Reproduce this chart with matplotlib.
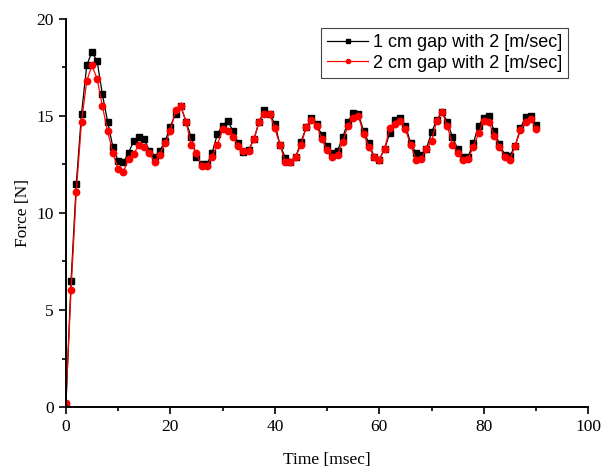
import matplotlib.pyplot as plt
from matplotlib.ticker import MultipleLocator

time_ms = list(range(0, 91))

gap_1cm = [0.0, 6.5, 11.5, 15.1, 17.6, 18.3, 17.8, 16.1, 14.7, 13.4,
           12.7, 12.6, 13.1, 13.7, 13.9, 13.8, 13.2, 12.9, 13.2, 13.7,
           14.45, 15.1, 15.5, 14.7, 13.9, 12.9, 12.5, 12.5, 13.1, 14.05,
           14.5, 14.75, 14.2, 13.6, 13.15, 13.25, 13.8, 14.7, 15.3, 15.1,
           14.6, 13.5, 12.85, 12.6, 12.9, 13.65, 14.4, 14.9, 14.6, 14.0,
           13.45, 13.1, 13.2, 13.9, 14.7, 15.15, 15.1, 14.2, 13.6, 12.9,
           12.75, 13.3, 14.1, 14.8, 14.9, 14.5, 13.6, 13.1, 13.0, 13.3,
           14.15, 14.8, 15.2, 14.7, 13.9, 13.3, 12.9, 12.9, 13.6, 14.5,
           14.9, 15.0, 14.2, 13.55, 13.0, 12.95, 13.45, 14.35, 14.95, 15.0,
           14.55]

gap_2cm = [0.2, 6.05, 11.1, 14.7, 16.8, 17.6, 16.9, 15.5, 14.2, 13.1,
           12.25, 12.1, 12.8, 13.05, 13.5, 13.4, 13.1, 12.6, 13.0, 13.6,
           14.2, 15.3, 15.5, 14.7, 13.5, 13.1, 12.4, 12.4, 12.9, 13.5,
           14.3, 14.2, 13.9, 13.45, 13.2, 13.2, 13.8, 14.7, 15.1, 15.1,
           14.35, 13.5, 12.6, 12.6, 12.9, 13.5, 14.4, 14.8, 14.5, 13.8,
           13.25, 12.9, 13.0, 13.65, 14.5, 14.9, 15.0, 14.05, 13.4, 12.9,
           12.75, 13.3, 14.35, 14.6, 14.75, 14.3, 13.5, 12.75, 12.8, 13.3,
           13.7, 14.75, 15.2, 14.5, 13.5, 13.1, 12.75, 12.8, 13.4, 14.1,
           14.75, 14.7, 13.95, 13.4, 12.9, 12.75, 13.45, 14.25, 14.7, 14.85,
           14.3]

serif = ['Liberation Serif', 'DejaVu Serif']

fig = plt.figure(figsize=(6.04, 4.69), dpi=100)
ax = fig.add_axes([0.109, 0.132, 0.865, 0.828])

ax.plot(time_ms, gap_1cm, color='black', lw=0.9, marker='s', ms=4.4,
        label='1 cm gap with 2 [m/sec]')
ax.plot(time_ms, gap_2cm, color='red', lw=0.9, marker='o', ms=4.6,
        label='2 cm gap with 2 [m/sec]')

ax.set_xlim(0, 100)
ax.set_ylim(0, 20)
ax.xaxis.set_major_locator(MultipleLocator(20))
ax.xaxis.set_minor_locator(MultipleLocator(10))
ax.yaxis.set_major_locator(MultipleLocator(5))
ax.yaxis.set_minor_locator(MultipleLocator(2.5))
ax.tick_params(which='major', direction='out', length=5, width=1.2)
ax.tick_params(which='minor', direction='out', length=3, width=1.2)
for lab in ax.get_xticklabels() + ax.get_yticklabels():
    lab.set_family(serif)
    lab.set_fontsize(12.5)

ax.spines['top'].set_visible(False)
ax.spines['right'].set_visible(False)
ax.spines['left'].set_linewidth(1.4)
ax.spines['bottom'].set_linewidth(1.4)

ax.set_xlabel('Time [msec]', family=serif, fontsize=12.5, labelpad=12)
ax.set_ylabel('Force [N]', family=serif, fontsize=12.5, labelpad=4)

leg = ax.legend(loc='upper right', bbox_to_anchor=(0.962, 0.976), numpoints=1,
                fancybox=False, framealpha=1, edgecolor='#444444',
                prop={'family': ['Liberation Sans', 'DejaVu Sans'], 'size': 13},
                handlelength=2.3, handletextpad=0.25, borderpad=0.35,
                labelspacing=0.18, borderaxespad=0)
leg.get_frame().set_linewidth(0.8)
for h in leg.legend_handles:
    h.set_markersize(3)

fig.savefig('out.png', dpi=100)
